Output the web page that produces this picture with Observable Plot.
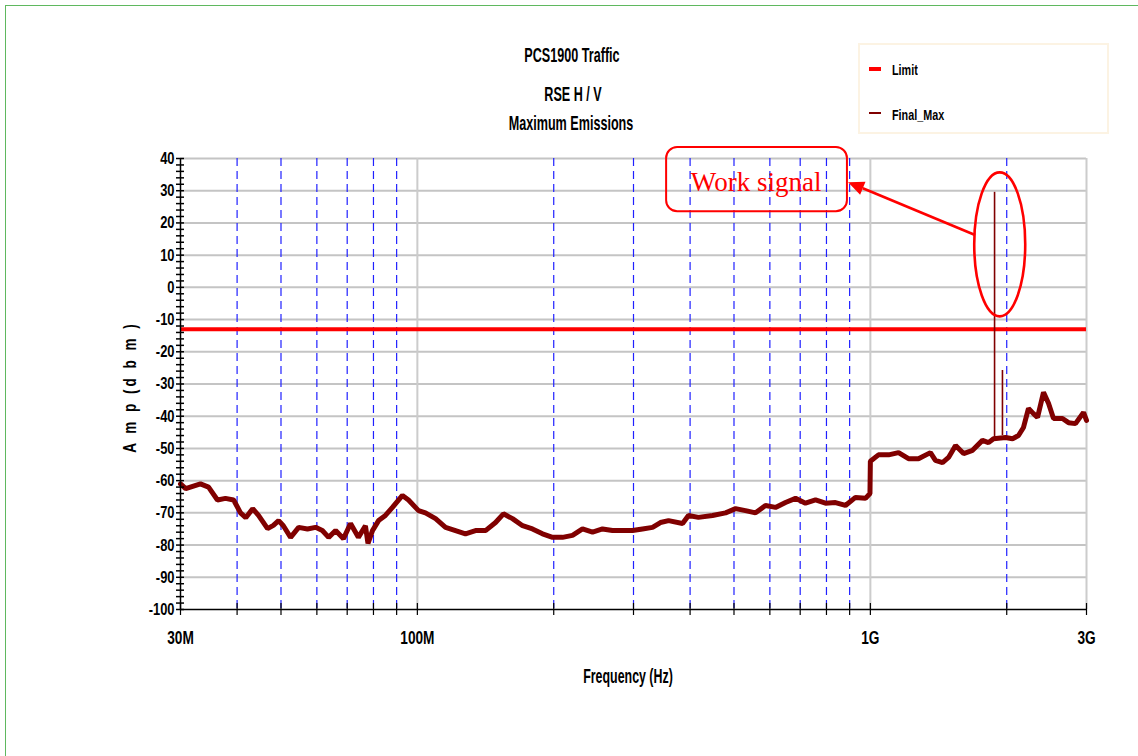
<!DOCTYPE html>
<html><head><meta charset="utf-8">
<script src="https://cdn.jsdelivr.net/npm/d3@7"></script>
<script src="https://cdn.jsdelivr.net/npm/@observablehq/plot@0.6"></script>
<style>
html,body{margin:0;padding:0;background:#fff;}
#wrap{position:relative;width:1138px;height:756px;overflow:hidden;font-family:"Liberation Sans",Arial,sans-serif;font-weight:bold;color:#000;}
#frame{position:absolute;left:5px;top:5px;width:1300px;height:900px;border-left:1px solid #5fb85f;border-top:1px solid #5fb85f;}
#chart{position:absolute;left:0;top:0;}
.t{position:absolute;white-space:nowrap;line-height:1;}
.c{transform:translateX(-50%) scaleX(0.6);}
#legend{position:absolute;left:858px;top:43px;width:247px;height:87px;border:2px solid #fcf3e3;background:#fff;}
.lg{position:absolute;left:32px;font-size:15px;transform-origin:0 0;transform:scaleX(0.72);line-height:1;}
.sw{position:absolute;left:9px;width:12px;}
</style></head><body>
<div id="wrap">
<div id="frame"></div>
<div id="chart"></div>
<div class="t c" style="left:572px;top:44px;font-size:21px;">PCS1900 Traffic</div>
<div class="t c" style="left:573px;top:83px;font-size:21px;">RSE H / V</div>
<div class="t c" style="left:571px;top:112px;font-size:21px;">Maximum Emissions</div>
<div id="legend">
  <div class="sw" style="top:22px;height:4px;background:#ff0000;"></div>
  <div class="lg" style="top:17px;">Limit</div>
  <div class="sw" style="top:67px;height:2px;background:#800000;"></div>
  <div class="lg" style="top:62px;">Final_Max</div>
</div>
<div class="t" style="left:130px;top:387px;font-size:18px;letter-spacing:4px;transform:translate(-50%,-50%) rotate(-90deg) scaleX(0.75);">A m p (d b m )</div>
<div class="t c" style="left:628px;top:666px;font-size:20px;transform:translateX(-50%) scaleX(0.62);">Frequency (Hz)</div>
</div>
<script>
// ---- data ----
const freqMHz = [30,30.8,33.2,34.6,36.2,37.7,39.3,40.7,41.8,43.3,44.6,46.7,48.1,49.4,50.6,52.5,54.7,57.2,59.6,61.7,63.7,66.0,68.7,71.2,74.1,76.8,77.8,79.6,82.1,85.0,88.1,92.7,95.6,100.6,104.2,109.7,115.4,121.4,127.7,134.4,141.4,148.8,154.9,162.2,170.7,179.5,188.9,198.8,209.1,220,231.5,243.6,256.3,269.6,283.7,298.5,314,330.5,344,358.5,385,396.7,417.4,448.3,479,504,530,557.8,586.8,617.4,649.6,683.6,719,756.7,796,837.5,881,927,975.6,998,1000,1042,1097,1154,1214,1277,1357,1392,1443,1488,1542,1606,1681,1768,1823,1870,1988,2060,2123,2178,2234,2291,2339,2411,2473,2537,2655,2738,2837,2955,3000];
const ampDbm = [-61,-62.5,-61,-62,-66,-65.5,-66,-70,-71.5,-68.7,-70.8,-74.9,-73.9,-72.4,-74,-77.6,-74.5,-75,-74.5,-75.5,-77.6,-75.5,-78,-73.3,-77.6,-74,-79.5,-75.5,-72.4,-70.8,-68.3,-64.6,-66,-69.3,-70,-71.8,-74.5,-75.5,-76.5,-75.5,-75.5,-73,-70.3,-71.8,-74,-75,-76.5,-77.6,-77.6,-77,-75,-76,-75,-75.5,-75.5,-75.5,-75,-74.5,-73,-72.4,-73.3,-70.8,-71.4,-70.8,-70,-68.7,-69.3,-70,-67.7,-68.3,-66.8,-65.5,-67,-66,-67,-66.8,-67.7,-65.2,-65.5,-64,-54,-52,-52,-51.3,-53.2,-53.2,-51.3,-53.7,-54.4,-52.8,-49.1,-51.6,-50.6,-47.5,-48.2,-47,-46.6,-47,-46,-43.5,-37.6,-39.2,-40.4,-32.6,-36,-40.7,-40.7,-42,-42.3,-38.8,-41.3];
const spikeMHz = [1880, 1957];
const spikeBase = [-47, -46];
const spikePeak = [29.5, -25.8];
const limitDbm = -13;
const yMajor = [-100,-90,-80,-70,-60,-50,-40,-30,-20,-10,0,10,20,30,40];
const yMinor = d3.range(-100, 41, 2);
const blueGridMHz = [40,50,60,70,80,90,200,300,400,500,600,700,800,900,2000];
const grayGridMHz = [100,1000,3000];
const xLabelMHz = [30,100,1000,3000];
const xLabelText = ["30M","100M","1G","3G"];
// annotation anchors in data units
const note = {text:"Work signal", boxF:[355e6,890e6], boxV:[43.4,23.5], textF:561e6, textV:29.8,
  ellF:1.935e9, ellV:13.2, arrowFrom:[1.707e9,16.1], arrowTo:[895e6,32.5]};

const trace = freqMHz.map((f,i)=>({f:f*1e6, v:ampDbm[i]}));
const spikes = spikeMHz.map((f,i)=>({f:f*1e6, y1:spikeBase[i], y2:spikePeak[i]}));
const M = d => d*1e6;
const allX = [...blueGridMHz, ...grayGridMHz, 30].map(M);
const labMap = new Map(xLabelMHz.map((m,i)=>[M(m), xLabelText[i]]));

const chart = Plot.plot({
  width:1138, height:756,
  marginTop:158, marginRight:52, marginBottom:147, marginLeft:180,
  style:{fontFamily:'"Liberation Sans", Arial, sans-serif', fontWeight:"bold", fontSize:"17px", color:"#000", background:"transparent", overflow:"visible"},
  x:{type:"log", domain:[30e6,3e9], label:null},
  y:{domain:[-100,40], label:null},
  marks:[
    Plot.ruleY(yMajor.filter(d=>d>-100), {stroke:"#c4c4c4", strokeWidth:2}),
    Plot.ruleX(grayGridMHz.map(M), {stroke:"#cccccc", strokeWidth:2}),
    Plot.ruleX(blueGridMHz.map(M), {stroke:"#2020ff", strokeWidth:1.2, strokeDasharray:"8,5"}),
    Plot.ruleY([limitDbm], {stroke:"#ff0000", strokeWidth:4}),
    Plot.line(trace, {x:"f", y:"v", stroke:"#800000", strokeWidth:5, strokeLinejoin:"bevel"}),
    Plot.ruleX(spikes, {x:"f", y1:"y1", y2:"y2", stroke:"#800000", strokeWidth:1.6}),
    Plot.ruleX([30e6], {stroke:"#000", strokeWidth:1.5}),
    Plot.ruleY([-100], {stroke:"#000", strokeWidth:1.5}),
    Plot.axisY({ticks:yMinor, tickSize:4, tickFormat:()=>"", stroke:"#000", strokeWidth:1.5}),
    Plot.axisY({ticks:yMinor, tickSize:4, dx:4, tickFormat:()=>"", stroke:"#000", strokeWidth:1.5}),
    Plot.axisY({ticks:yMajor, tickSize:0, tickPadding:6, tickFormat:d=>String(d), fontSize:17}),
    Plot.axisX({ticks:allX, tickSize:6, tickFormat:()=>"", stroke:"#000", strokeWidth:1.2}),
    Plot.axisX({ticks:allX, tickSize:6, dy:-6, tickFormat:()=>"", stroke:"#000", strokeWidth:1.2}),
    Plot.axisX({ticks:xLabelMHz.map(M), tickSize:0, tickPadding:22, tickFormat:d=>labMap.get(d)||"", fontSize:18})
  ]
});
document.getElementById("chart").appendChild(chart);

// condense tick label glyphs
chart.querySelectorAll('g[aria-label$="tick label"] text').forEach(t=>{
  const tr = t.getAttribute("transform");
  if (tr) t.setAttribute("transform", tr + " scale(0.76,1)");
  else {
    const x = t.getAttribute("x")||0, y = t.getAttribute("y")||0;
    t.removeAttribute("x"); t.removeAttribute("y");
    t.setAttribute("transform", `translate(${x},${y}) scale(0.76,1)`);
  }
});

// annotation
const sx = chart.scale("x"), sy = chart.scale("y");
const X = f=>sx.apply(f), Y = v=>sy.apply(v);
const g = d3.select(chart).append("g").attr("fill","none").attr("stroke","#ff0000");
g.append("rect").attr("x",X(note.boxF[0])).attr("y",Y(note.boxV[0]))
  .attr("width",X(note.boxF[1])-X(note.boxF[0])).attr("height",Y(note.boxV[1])-Y(note.boxV[0]))
  .attr("rx",11).attr("stroke-width",2);
g.append("text").attr("x",X(note.textF)).attr("y",Y(note.textV)).attr("text-anchor","middle")
  .attr("stroke","none").attr("fill","#ff0000").attr("font-family",'"Liberation Serif","Times New Roman",serif')
  .attr("font-weight","normal").attr("font-size",27).text(note.text);
g.append("ellipse").attr("cx",X(note.ellF)).attr("cy",Y(note.ellV)).attr("rx",25.5).attr("ry",72).attr("stroke-width",2.6);
const x0=X(note.arrowFrom[0]), y0=Y(note.arrowFrom[1]), x1=X(note.arrowTo[0]), y1=Y(note.arrowTo[1]);
const ang=Math.atan2(y1-y0,x1-x0), hl=16, hw=7;
const bx=x1-hl*Math.cos(ang), by=y1-hl*Math.sin(ang);
g.append("line").attr("x1",x0).attr("y1",y0).attr("x2",bx).attr("y2",by).attr("stroke-width",2.6);
g.append("polygon").attr("fill","#ff0000").attr("stroke","none")
  .attr("points",[[x1,y1],[bx+hw*Math.sin(ang),by-hw*Math.cos(ang)],[bx-hw*Math.sin(ang),by+hw*Math.cos(ang)]].map(p=>p.join(",")).join(" "));
</script>
</body></html>
